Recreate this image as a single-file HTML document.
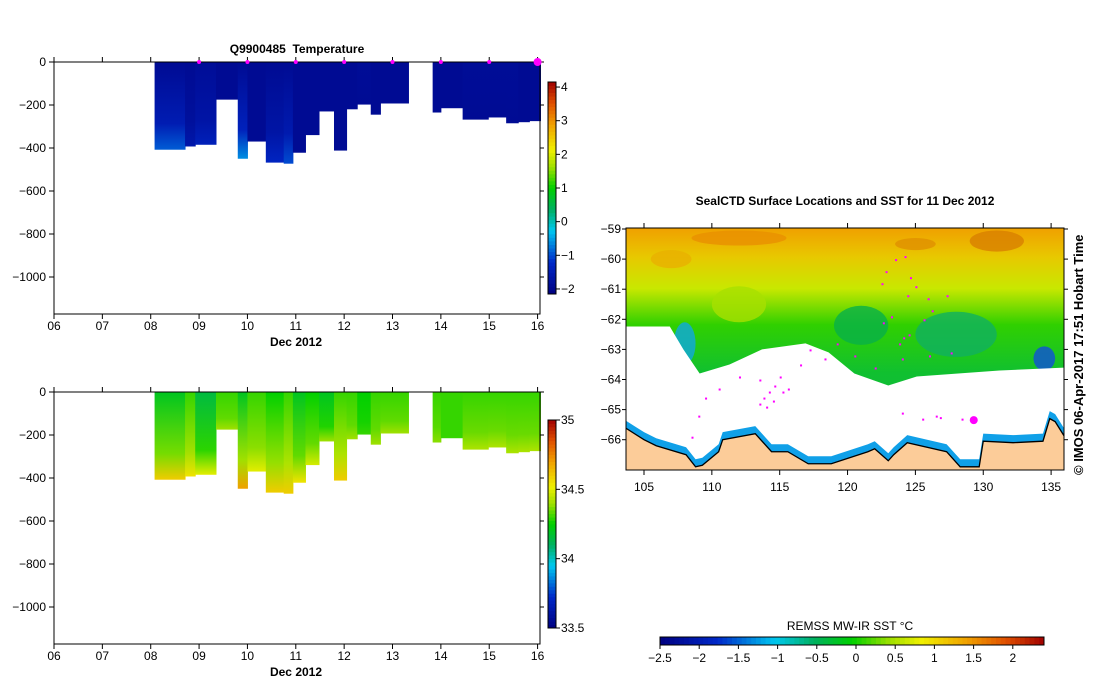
<!DOCTYPE html>
<html><head><meta charset="utf-8"><style>
html,body{margin:0;padding:0;background:#fff;width:1099px;height:700px;overflow:hidden}
svg{display:block}
text{font-family:"Liberation Sans",sans-serif;font-size:12px;fill:#000}
.b{font-weight:bold}
</style></head><body>
<svg id="s" width="1099" height="700" xmlns="http://www.w3.org/2000/svg">
<defs>
<linearGradient id="sstg" x1="0" y1="0" x2="0" y2="1">
<stop offset="0" stop-color="#f0a000"/><stop offset="0.12" stop-color="#e8c800"/>
<stop offset="0.25" stop-color="#c8e800"/><stop offset="0.4" stop-color="#30d000"/>
<stop offset="0.6" stop-color="#10c030"/><stop offset="1" stop-color="#10b050"/>
</linearGradient>
</defs>
</svg>
<script>
// ---- data: profiles ----
const profStart=[8.08,8.71,8.92,9.35,9.8,10.0,10.38,10.75,10.94,11.2,11.48,11.79,12.05,12.27,12.55,12.75,13.83,14.0,14.45,14.98,15.35,15.6,15.83];
const profEnd=[8.71,8.92,9.35,9.8,10.0,10.38,10.75,10.94,11.2,11.48,11.79,12.05,12.27,12.55,12.75,13.33,14.0,14.45,14.98,15.35,15.6,15.83,16.06];
const profDepth=[408,393,385,175,450,370,468,473,422,340,230,412,220,198,245,193,235,215,268,258,285,280,275];
const tempSurf=[-1.9,-1.9,-1.85,-1.9,-1.9,-1.9,-1.9,-1.9,-1.9,-1.9,-1.9,-1.9,-1.9,-1.85,-1.9,-1.9,-1.9,-1.9,-1.85,-1.85,-1.85,-1.9,-1.9];
const tempBot=[-0.9,-1.6,-1.4,-1.9,-0.6,-1.9,-1.3,-1.0,-1.9,-1.9,-1.9,-1.9,-1.9,-1.9,-1.9,-1.9,-1.9,-1.9,-1.9,-1.9,-1.9,-1.9,-1.9];
const salSurf=[34.2,34.3,34.15,34.3,34.2,34.3,34.25,34.3,34.2,34.25,34.2,34.3,34.3,34.25,34.3,34.3,34.3,34.3,34.3,34.3,34.3,34.3,34.3];
const salBot=[34.6,34.55,34.5,34.4,34.7,34.5,34.6,34.6,34.55,34.48,34.4,34.6,34.4,34.3,34.4,34.4,34.38,34.3,34.42,34.42,34.42,34.42,34.42];
const markerDays=[9,10,11,12,13,14,15,16];
const dayTicks=["06","07","08","09","10","11","12","13","14","15","16"];
const depthTicks=[0,-200,-400,-600,-800,-1000];
const tempTicks=[4,3,2,1,0,-1,-2];
const salTicks=[35,34.5,34,33.5];
const lonTicks=[105,110,115,120,125,130,135];
const latTicks=[-59,-60,-61,-62,-63,-64,-65,-66];
const sstTicks=[-2.5,-2,-1.5,-1,-0.5,0,0.5,1,1.5,2];
// ---- geography ----
const iceLon=[103.6,106.9,107.9,109.1,111.3,113.7,116.9,118.6,120.5,123,125.1,131.2,136.2];
const iceLat=[-62.24,-62.24,-63.0,-63.8,-63.5,-63.0,-62.8,-63.1,-63.8,-64.2,-63.9,-63.7,-63.6];
const landLon=[103.6,105,105.9,108.1,108.8,109.3,110.5,110.8,113.2,114.4,115.6,117.1,118.8,121.5,122,123,123.4,124.4,127.3,128.3,129.7,130,132.2,134.4,134.9,135.3,136.2];
const landLat=[-65.6,-66.0,-66.2,-66.5,-66.9,-66.85,-66.4,-66.0,-65.8,-66.4,-66.4,-66.8,-66.8,-66.4,-66.3,-66.7,-66.5,-66.1,-66.4,-66.9,-66.9,-66.05,-66.1,-66.05,-65.3,-65.4,-66.05];
const trackLon=[122.8,123.5,124.2,124.6,125.0,124.4,123.2,122.6,123.8,124.5,125.6,126.2,127.3,127.6,126.0,124.0,122.0,120.5,119.2,118.3,117.2,116.5,115.0,113.5,112.0,110.5,109.5,109.0,108.5,113.8,114.2,114.6,115.2,115.6,113.5,114.0,114.5,124.0,125.5,126.5,126.8,128.4,122.5,125.9,124.1];
const trackLat=[-60.4,-60.0,-59.9,-60.6,-60.9,-61.2,-61.9,-62.1,-62.8,-62.5,-62.0,-61.7,-61.2,-63.1,-63.2,-63.3,-63.6,-63.2,-62.8,-63.3,-63.0,-63.5,-63.9,-64.0,-63.9,-64.3,-64.6,-65.2,-65.9,-64.6,-64.4,-64.2,-64.4,-64.3,-64.8,-64.9,-64.7,-65.1,-65.3,-65.2,-65.25,-65.3,-60.8,-61.3,-62.6];
const lastFixLon=129.3, lastFixLat=-65.35;

const S=document.getElementById('s');
const NS='http://www.w3.org/2000/svg';
function mk(tag,attrs,parent,name,txt){const e=document.createElementNS(NS,tag);for(const k in attrs)e.setAttribute(k,attrs[k]);if(txt!==undefined)e.textContent=txt;(parent||S).appendChild(e);


return e;}
const stops=[[0,[0,0,128]],[0.15,[0,40,200]],[0.3,[0,200,240]],[0.4,[0,176,96]],[0.5,[0,208,0]],[0.6,[160,224,0]],[0.68,[240,240,0]],[0.8,[240,160,0]],[0.9,[224,80,0]],[1,[160,0,0]]];
function cmap(t){t=Math.max(0,Math.min(1,t));for(let i=1;i<stops.length;i++){if(t<=stops[i][0]){const a=stops[i-1],b=stops[i],f=(t-a[0])/(b[0]-a[0]);const c=a[1].map((v,j)=>Math.round(v+(b[1][j]-v)*f));return `rgb(${c})`;}}return 'rgb(160,0,0)';}
let gid=0;
function profilePlot(top,title,surf,bot,vmin,vmax,cbTop,cbBot,ticks,gname){
  const L=54,R=540,B=top+252;
  const x=d=>L+(d-6)*(R-L)/10.05;
  const y=v=>top-v*0.215;
  const g=mk('g',{},S,gname);
  if(title)mk('text',{x:297,y:top-9,'text-anchor':'middle',class:'b'},g,'chart-title',title);
  for(let i=0;i<profStart.length;i++){
    const id='pg'+(gid++);
    const lg=mk('linearGradient',{id:id,x1:0,y1:0,x2:0,y2:1},S.querySelector('defs'),'profile-gradient');
    mk('stop',{offset:0,'stop-color':cmap((surf[i]-vmin)/(vmax-vmin))},lg,'stop');
    mk('stop',{offset:0.7,'stop-color':cmap((surf[i]+(bot[i]-surf[i])*0.4-vmin)/(vmax-vmin))},lg,'stop');
    mk('stop',{offset:1,'stop-color':cmap((bot[i]-vmin)/(vmax-vmin))},lg,'stop');
    mk('rect',{x:x(profStart[i]),y:top,width:x(profEnd[i])-x(profStart[i])+0.5,height:y(-profDepth[i])-top,fill:`url(#${id})`},g,'profile-column');
  }
  mk('rect',{x:L,y:top,width:R-L,height:B-top,fill:'none',stroke:'#000','stroke-width':1},g,'plot-frame');
  dayTicks.forEach((t,i)=>{const xx=x(6+i);mk('line',{x1:xx,y1:B,x2:xx,y2:B+5,stroke:'#000'},g,'x-tick');mk('line',{x1:xx,y1:top,x2:xx,y2:top-5,stroke:'#000'},g,'x-tick');mk('text',{x:xx,y:B+16,'text-anchor':'middle'},g,'x-tick-label',t);});
  mk('text',{x:296,y:B+32,'text-anchor':'middle',class:'b'},g,'x-axis-title','Dec 2012');
  depthTicks.forEach(v=>{const yy=y(v);mk('line',{x1:L-5,y1:yy,x2:L,y2:yy,stroke:'#000'},g,'y-tick');mk('line',{x1:R,y1:yy,x2:R+4,y2:yy,stroke:'#000'},g,'y-tick');mk('text',{x:L-8,y:yy+4,'text-anchor':'end'},g,'y-tick-label',String(v).replace('-','−'));});
  const cb=mk('g',{},g,'colorbar');const n=60,h=(cbBot-cbTop)/n;
  for(let k=0;k<n;k++)mk('rect',{x:548,y:cbBot-(k+1)*h,width:8,height:h+0.4,fill:cmap((k+0.5)/n)},cb,'colorbar-cell');
  mk('rect',{x:548,y:cbTop,width:8,height:cbBot-cbTop,fill:'none',stroke:'#000'},cb,'colorbar-frame');
  ticks.forEach(v=>{const yy=cbBot-(v-vmin)/(vmax-vmin)*(cbBot-cbTop);mk('line',{x1:556,y1:yy,x2:560,y2:yy,stroke:'#000'},cb,'colorbar-tick');mk('text',{x:561,y:yy+4},cb,'colorbar-label',String(v).replace('-','−'));});
  return {x,g};
}
const p1=profilePlot(62,'Q9900485\u00a0\u00a0Temperature',tempSurf,tempBot,-2.15,4.15,82,294,tempTicks,'temperature-section');
markerDays.forEach(d=>mk('circle',{cx:p1.x(d),cy:62,r:d===16?4:2,fill:'#ff00ff'},p1.g,'profile-marker'));
profilePlot(392,null,salSurf,salBot,33.5,35,420,628,salTicks,'salinity-section');

// ---- map ----
const mL=626,mR=1064,mT=228,mB=470;
const lx=l=>644+(l-105)*13.57, ly=a=>229+(-59-a)*30.1;
const mg=mk('g',{},S,'sst-map');
const clip=mk('clipPath',{id:'mclip'},S.querySelector('defs'),'map-clip');
mk('rect',{x:mL,y:mT,width:mR-mL,height:mB-mT},clip,'clip-rect');
mk('text',{x:845,y:205,'text-anchor':'middle',class:'b'},mg,'map-title','SealCTD Surface Locations and SST for 11 Dec 2012');
const inner=mk('g',{'clip-path':'url(#mclip)'},mg,'map-content');
mk('rect',{x:mL,y:mT,width:mR-mL,height:mB-mT,fill:'url(#sstg)'},inner,'sst-field');
const patches=[[112,-59.3,7,0.5,'#e89000'],[131,-59.4,4,0.7,'#d88000'],[125,-59.5,3,0.4,'#e09000'],[107,-60,3,0.6,'#e8b000'],[112,-61.5,4,1.2,'#a8e000'],[108,-62.8,1.6,1.4,'#10a8e0'],[107.5,-63.3,1.2,0.6,'#0060e0'],[134.5,-63.3,1.6,0.8,'#1050d8'],[128,-62.5,6,1.5,'#10b060'],[121,-62.2,4,1.3,'#08b048']];
patches.forEach(p=>mk('ellipse',{cx:lx(p[0]),cy:ly(p[1]),rx:p[2]*13.57/2,ry:p[3]*30.1/2,fill:p[4],opacity:0.8},inner,'sst-patch'));
let ice=iceLon.map((l,i)=>`${lx(l)},${ly(iceLat[i])}`).join(' ')+` ${mR},${mB} ${mL},${mB}`;
mk('polygon',{points:ice,fill:'#fff'},inner,'sea-ice');
let coast=landLon.map((l,i)=>`${lx(l)},${ly(landLat[i]+0.25)}`).join(' ')+` ${mR},${mB} ${mL},${mB}`;
mk('polygon',{points:coast,fill:'#10a0e8'},inner,'coastal-sst');
let land=landLon.map((l,i)=>`${lx(l)},${ly(landLat[i])}`).join(' ')+` ${mR},${mB} ${mL},${mB}`;
mk('polygon',{points:land,fill:'#fccc99'},inner,'antarctica');
mk('polyline',{points:landLon.map((l,i)=>`${lx(l)},${ly(landLat[i])}`).join(' '),fill:'none',stroke:'#000','stroke-width':1.3},inner,'coastline');
trackLon.forEach((l,i)=>mk('rect',{x:lx(l),y:ly(trackLat[i]),width:2,height:2,fill:'#ff00ff'},inner,'seal-location'));
mk('circle',{cx:lx(lastFixLon),cy:ly(lastFixLat),r:4,fill:'#ff00ff'},inner,'latest-location');
mk('rect',{x:mL,y:mT,width:mR-mL,height:mB-mT,fill:'none',stroke:'#000'},mg,'map-frame');
lonTicks.forEach(v=>{const xx=lx(v);mk('line',{x1:xx,y1:mB,x2:xx,y2:mB+5,stroke:'#000'},mg,'lon-tick');mk('line',{x1:xx,y1:mT,x2:xx,y2:mT-5,stroke:'#000'},mg,'lon-tick');mk('text',{x:xx,y:mB+21,'text-anchor':'middle'},mg,'lon-label',v);});
latTicks.forEach(v=>{const yy=ly(v);mk('line',{x1:mL-4,y1:yy,x2:mL,y2:yy,stroke:'#000'},mg,'lat-tick');mk('line',{x1:mR,y1:yy,x2:mR+4,y2:yy,stroke:'#000'},mg,'lat-tick');mk('text',{x:mL-5,y:yy+4,'text-anchor':'end'},mg,'lat-label',String(v).replace('-','−'));});
mk('text',{x:1083,y:475,transform:'rotate(-90 1083 475)',class:'b',style:'font-size:13px'},mg,'timestamp','© IMOS 06-Apr-2017 17:51 Hobart Time');
const sx=v=>660+(v+2.5)*78.4;const cb=mk('g',{},S,'sst-colorbar');
mk('text',{x:850,y:630,'text-anchor':'middle'},cb,'sst-colorbar-title','REMSS MW-IR SST °C');
for(let k=0;k<80;k++)mk('rect',{x:660+k*384/80,y:637,width:384/80+0.4,height:8,fill:cmap((k+0.5)/80)},cb,'sst-colorbar-cell');
mk('rect',{x:660,y:637,width:384,height:8,fill:'none',stroke:'#000'},cb,'sst-colorbar-frame');
sstTicks.forEach(v=>{mk('line',{x1:sx(v),y1:645,x2:sx(v),y2:649,stroke:'#000'},cb,'sst-tick');mk('text',{x:sx(v),y:662,'text-anchor':'middle'},cb,'sst-tick-label',String(v).replace('-','−'));});
</script>
</body></html>
